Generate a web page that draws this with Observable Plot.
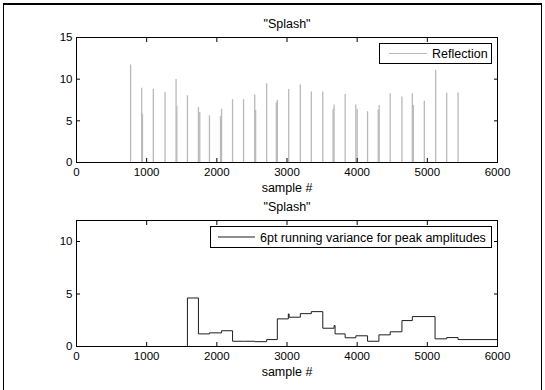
<!DOCTYPE html>
<html>
<head>
<meta charset="utf-8">
<script src="https://cdn.jsdelivr.net/npm/d3@7"></script>
<script src="https://cdn.jsdelivr.net/npm/@observablehq/plot@0.6"></script>
<style>
  html, body { margin: 0; padding: 0; background: #fff; }
  #page { position: relative; width: 545px; height: 390px; overflow: hidden; }
  #border {
    position: absolute; left: 3px; top: 3px; width: 539px; height: 400px;
    border-top: 2px solid #000; border-left: 1px solid #000; border-right: 1px solid #000;
    box-sizing: border-box;
  }
  .panel { position: absolute; left: 0; }
</style>
</head>
<body>
<div id="page">
  <div id="border"></div>
  <div id="top" class="panel" style="top:0px"></div>
  <div id="bottom" class="panel" style="top:195px"></div>
</div>
<script>
// Main reflection peaks: sample index and amplitude
const reflectionSample = [771, 929, 1095, 1262, 1419, 1581, 1738, 1895, 2067, 2224, 2381, 2540, 2710, 2862, 3024,
  3190, 3347, 3510, 3671, 3829, 3981, 4148, 4314, 4471, 4638, 4786, 4957, 5119, 5276, 5438];
const reflectionPeak = [11.7, 8.9, 8.8, 8.4, 9.95, 8.0, 6.6, 5.6, 6.4, 7.55, 7.55, 8.1, 9.45, 7.45, 8.75,
  9.3, 8.45, 8.45, 6.9, 8.15, 6.9, 6.1, 6.85, 8.25, 7.85, 8.25, 7.35, 11.05, 8.3, 8.35];

// Secondary (echo) peaks next to some reflections
const echoSample = [940, 1430, 1757, 2053, 2553, 2848, 3657, 4000, 4300, 4800];
const echoPeak = [5.8, 6.7, 6.0, 5.5, 6.25, 7.15, 6.35, 6.35, 6.3, 6.85];

// 6-point running variance of the peak amplitudes (step function)
const varianceSample = [0, 1581, 1738, 1895, 2067, 2224, 2381, 2540, 2710, 2862, 3019, 3030, 3190, 3347, 3510,
  3671, 3685, 3829, 3981, 4148, 4310, 4471, 4638, 4786, 5110, 5276, 5438, 6000];
const varianceValue = [0, 4.62, 1.2, 1.3, 1.5, 0.5, 0.5, 0.46, 0.66, 2.63, 3.1, 2.79, 3.13, 3.32, 1.74,
  2.0, 1.2, 0.83, 1.02, 0.5, 1.11, 1.4, 2.47, 2.85, 0.73, 0.85, 0.66, 0.66];

const xTicks = [0, 1000, 2000, 3000, 4000, 5000, 6000];
const yTicksTop = [0, 5, 10, 15];
const yTicksBottom = [0, 5, 10];

const titleText = "\"Splash\"";
const xLabel = "sample #";
const reflectionName = "Reflection";
const varianceName = "6pt running variance for peak amplitudes";

const FONT = '"Liberation Sans", Arial, Helvetica, sans-serif';
const TEXT_SIZE = 12.5;
const reflectionColor = "#b9b9b9";
const varianceColor = "#1e1e1e";

function panel({height, marginTop, marginBottom, yDomain, yTicks, marks}) {
  return Plot.plot({
    width: 545,
    height,
    marginLeft: 76,
    marginRight: 48,
    marginTop,
    marginBottom,
    style: {fontFamily: FONT, fontSize: "11px", color: "#000", background: "transparent", overflow: "visible"},
    x: {domain: [0, 6000]},
    y: {domain: yDomain},
    marks: [
      ...marks,
      Plot.frame({stroke: "#000"}),
      Plot.axisX(xTicks, {anchor: "bottom", tickSize: 4, dy: -4, tickPadding: 5, label: null, fontSize: 11.5, tickFormat: d => String(d)}),
      Plot.axisX(xTicks, {anchor: "top", tickSize: 4, dy: 4, fill: "none", label: null}),
      Plot.axisY(yTicks, {anchor: "left", tickSize: 4, dx: 4, tickPadding: 4, label: null, fontSize: 11.5, tickFormat: d => String(d)}),
      Plot.axisY(yTicks, {anchor: "right", tickSize: 4, dx: -4, fill: "none", label: null}),
      Plot.text([titleText], {text: d => d, frameAnchor: "top", dy: -13.5, lineAnchor: "middle", fontSize: TEXT_SIZE}),
      Plot.text([xLabel], {text: d => d, frameAnchor: "bottom", dy: 25.5, lineAnchor: "middle", fontSize: TEXT_SIZE})
    ]
  });
}

function addLegend(svg, {x, y, w, h, lineX1, lineX2, textX, color, label}) {
  const g = d3.select(svg).append("g")
    .attr("font-family", FONT).attr("font-size", TEXT_SIZE).attr("text-anchor", "start");
  g.append("rect").attr("x", x).attr("y", y).attr("width", w).attr("height", h)
    .attr("fill", "#fff").attr("stroke", "#000").attr("stroke-width", 1);
  g.append("line").attr("x1", lineX1).attr("x2", lineX2).attr("y1", y + h / 2).attr("y2", y + h / 2)
    .attr("stroke", color).attr("stroke-width", 1);
  g.append("text").attr("x", textX).attr("y", y + h / 2).attr("dy", "0.36em")
    .attr("text-anchor", "start").attr("fill", "#000").text(label);
}

const topChart = panel({
  height: 195, marginTop: 37, marginBottom: 33, yDomain: [0, 15], yTicks: yTicksTop,
  marks: [
    Plot.ruleX(reflectionSample, {x: d => d, y1: 0, y2: (d, i) => reflectionPeak[i], stroke: reflectionColor, strokeWidth: 1.3}),
    Plot.ruleX(echoSample, {x: d => d, y1: 0, y2: (d, i) => echoPeak[i], stroke: reflectionColor, strokeWidth: 1.3})
  ]
});
addLegend(topChart, {x: 379.5, y: 43.5, w: 112, h: 20, lineX1: 389, lineX2: 427, textX: 432, color: reflectionColor, label: reflectionName});
document.getElementById("top").appendChild(topChart);

const bottomChart = panel({
  height: 195, marginTop: 25, marginBottom: 44, yDomain: [0, 12], yTicks: yTicksBottom,
  marks: [
    Plot.line(varianceSample, {x: d => d, y: (d, i) => varianceValue[i], curve: "step-after", stroke: varianceColor, strokeWidth: 1})
  ]
});
addLegend(bottomChart, {x: 210.5, y: 31.5, w: 281, h: 21, lineX1: 218, lineX2: 255, textX: 260, color: varianceColor, label: varianceName});
document.getElementById("bottom").appendChild(bottomChart);
</script>
</body>
</html>
